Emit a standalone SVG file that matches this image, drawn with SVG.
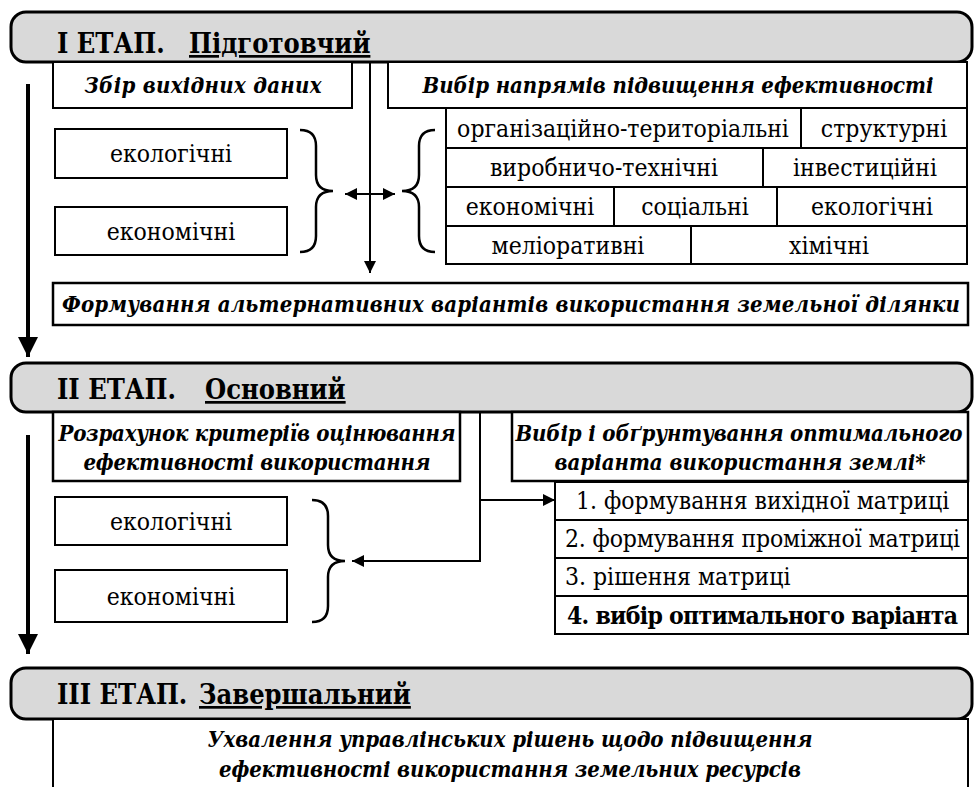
<svg xmlns="http://www.w3.org/2000/svg" width="974" height="787" viewBox="0 0 974 787" font-family="'DejaVu Serif Condensed','DejaVu Serif',serif">
<defs>
<style>
text{fill:#000;font-family:"DejaVu Serif Condensed","DejaVu Serif",serif;font-stretch:condensed}
.hdr{fill:#d9d9d9;stroke:#000;stroke-width:3}
.box{fill:#fff;stroke:#000;stroke-width:2}
.box3{fill:#fff;stroke:#000;stroke-width:2.5}
.ln{fill:none;stroke:#000;stroke-width:2}
.brace{fill:none;stroke:#000;stroke-width:2.5}
.big{fill:none;stroke:#000;stroke-width:4}
.ht{font-weight:bold;font-size:27px}
.bi{font-weight:bold;font-style:italic;font-size:22px;text-anchor:middle}
.rg{font-size:24.5px;text-anchor:middle}
.rl{font-size:24.5px}
</style>
<marker id="ahs" viewBox="0 0 10 10" refX="10" refY="5" markerWidth="14" markerHeight="12" markerUnits="userSpaceOnUse" orient="auto-start-reverse"><path d="M0,0 L10,5 L0,10 z" fill="#000"/></marker>
<marker id="ahb" viewBox="0 0 10 10" refX="10" refY="5" markerWidth="26" markerHeight="20" markerUnits="userSpaceOnUse" orient="auto"><path d="M0,0 L10,5 L0,10 z" fill="#000"/></marker>
</defs>

<g id="connectors">
<line class="big" x1="28" y1="84" x2="28" y2="357" marker-end="url(#ahb)"/>
<line class="big" x1="28" y1="435" x2="28" y2="654" marker-end="url(#ahb)"/>
<line class="ln" x1="370" y1="62" x2="370" y2="273" marker-end="url(#ahs)"/>
<line class="ln" x1="345" y1="194" x2="395" y2="194" marker-start="url(#ahs)" marker-end="url(#ahs)"/>
<path class="brace" d="M300,130 Q316,130 316,146 L316,175 Q316,191 333,191 Q316,191 316,207 L316,236 Q316,252 300,252"/>
<path class="brace" d="M435,130 Q419,130 419,146 L419,175 Q419,191 402,191 Q419,191 419,207 L419,236 Q419,252 435,252"/>
<polyline class="ln" points="480,412 480,561 352,561" marker-end="url(#ahs)"/>
<line class="ln" x1="480" y1="500" x2="555" y2="500" marker-end="url(#ahs)"/>
<path class="brace" d="M312,500 Q328,500 328,516 L328,545 Q328,561 345,561 Q328,561 328,577 L328,606 Q328,622 312,622"/>
</g>

<g id="stage1">
<rect class="hdr" x="11" y="12" width="961" height="50" rx="15"/>
<text class="ht" x="57" y="53">І ЕТАП.<tspan x="189" text-decoration="underline">Підготовчий</tspan></text>
</g>
<g id="collect">
<rect class="box" x="53" y="62" width="299" height="46"/>
<text class="bi" x="203" y="93" textLength="237">Збір вихідних даних</text>
</g>
<g id="directions">
<rect class="box" x="388" y="62" width="579" height="46"/>
<text class="bi" x="678" y="93" textLength="511">Вибір напрямів підвищення ефективності</text>
</g>
<g id="eco1">
<rect class="box" x="55" y="129" width="232" height="49"/>
<text class="rg" x="171" y="162">екологічні</text>
</g>
<g id="econ1">
<rect class="box" x="55" y="207" width="232" height="48"/>
<text class="rg" x="171" y="240">економічні</text>
</g>
<g id="grid">
<rect class="box" x="446" y="108" width="521" height="156"/>
<line class="ln" x1="446" y1="148" x2="967" y2="148"/>
<line class="ln" x1="446" y1="187" x2="967" y2="187"/>
<line class="ln" x1="446" y1="226" x2="967" y2="226"/>
<line class="ln" x1="801" y1="108" x2="801" y2="148"/>
<line class="ln" x1="763" y1="148" x2="763" y2="187"/>
<line class="ln" x1="614" y1="187" x2="614" y2="226"/>
<line class="ln" x1="777" y1="187" x2="777" y2="226"/>
<line class="ln" x1="691" y1="226" x2="691" y2="264"/>
<text class="rg" x="623" y="137">організаційно-територіальні</text>
<text class="rg" x="884" y="137">структурні</text>
<text class="rg" x="604" y="176">виробничо-технічні</text>
<text class="rg" x="865" y="176">інвестиційні</text>
<text class="rg" x="530" y="215">економічні</text>
<text class="rg" x="695" y="215">соціальні</text>
<text class="rg" x="872" y="215">екологічні</text>
<text class="rg" x="568" y="254">меліоративні</text>
<text class="rg" x="829" y="254">хімічні</text>
</g>
<g id="alternatives">
<rect class="box3" x="53" y="283" width="915" height="42"/>
<text class="bi" x="511" y="312" textLength="898">Формування альтернативних варіантів використання земельної ділянки</text>
</g>

<g id="stage2">
<rect class="hdr" x="11" y="363" width="961" height="49" rx="15"/>
<text class="ht" x="57" y="399">ІІ ЕТАП.<tspan x="205" text-decoration="underline">Основний</tspan></text>
</g>
<g id="criteria">
<rect class="box3" x="53" y="412" width="407" height="69"/>
<text class="bi" x="257" y="441" textLength="397">Розрахунок критеріїв оцінювання</text>
<text class="bi" x="257" y="470" textLength="347">ефективності використання</text>
</g>
<g id="choice">
<rect class="box3" x="512" y="412" width="456" height="69"/>
<text class="bi" x="739" y="441" textLength="447">Вибір і обґрунтування оптимального</text>
<text class="bi" x="740" y="470">варіанта використання землі*</text>
</g>
<g id="eco2">
<rect class="box" x="55" y="497" width="232" height="48"/>
<text class="rg" x="171" y="530">екологічні</text>
</g>
<g id="econ2">
<rect class="box" x="55" y="570" width="232" height="52"/>
<text class="rg" x="171" y="605">економічні</text>
</g>
<g id="matrix">
<rect class="box" x="555" y="482" width="413" height="152"/>
<line class="ln" x1="555" y1="520" x2="968" y2="520"/>
<line class="ln" x1="555" y1="558" x2="968" y2="558"/>
<line class="ln" x1="555" y1="596" x2="968" y2="596"/>
<text class="rl" x="576" y="509">1. формування вихідної матриці</text>
<text class="rl" x="565" y="547" textLength="395">2. формування проміжної матриці</text>
<text class="rl" x="565" y="585">3. рішення матриці</text>
<text class="rl" x="567" y="624" font-weight="bold" textLength="391">4. вибір оптимального варіанта</text>
</g>

<g id="stage3">
<rect class="hdr" x="11" y="668" width="961" height="51" rx="15"/>
<text class="ht" x="57" y="704">ІІІ ЕТАП.<tspan x="199" text-decoration="underline">Завершальний</tspan></text>
</g>
<g id="decision">
<rect class="box" x="53" y="719" width="915" height="90"/>
<text class="bi" x="510" y="747" textLength="605">Ухвалення управлінських рішень щодо підвищення</text>
<text class="bi" x="510" y="777" textLength="582">ефективності використання земельних ресурсів</text>
</g>
</svg>
